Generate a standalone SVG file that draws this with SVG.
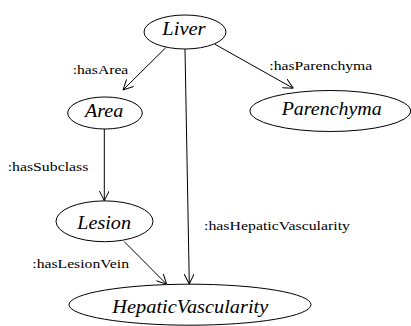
<svg xmlns="http://www.w3.org/2000/svg" width="411" height="326" viewBox="0 0 411 326">
<style>
.n ellipse{fill:#fff;stroke:#000;stroke-width:1}
.n text{font-family:"Liberation Serif","Times New Roman",serif;font-style:italic;font-size:18px;fill:#000}
.e line{stroke:#000;stroke-width:1;fill:none}
.lbl{font-family:"Liberation Serif","Times New Roman",serif;font-size:13.5px;fill:#000}
</style>
<defs>
<marker id="arr" viewBox="0 0 10 10" refX="10" refY="5" markerWidth="10" markerHeight="10" markerUnits="userSpaceOnUse" orient="auto">
<path d="M0,0 L10,5 L0,10" fill="none" stroke="#000" stroke-width="1"/>
</marker>
</defs>
<rect width="411" height="326" fill="#fff"/>
<g id="connectors" class="e">
<line x1="165.7" y1="47.7" x2="123" y2="90" marker-end="url(#arr)"/>
<line x1="215" y1="44.3" x2="293.3" y2="88.3" marker-end="url(#arr)"/>
<line x1="185" y1="49" x2="189.3" y2="284" marker-end="url(#arr)"/>
<line x1="104.3" y1="129" x2="104.3" y2="200.7" marker-end="url(#arr)"/>
<line x1="124.3" y1="241.7" x2="166.7" y2="284.3" marker-end="url(#arr)"/>
<text class="lbl" x="72.7" y="74" textLength="55.6" lengthAdjust="spacingAndGlyphs">:hasArea</text>
<text class="lbl" x="269.3" y="69.5" textLength="103" lengthAdjust="spacingAndGlyphs">:hasParenchyma</text>
<text class="lbl" x="7.7" y="170.7" textLength="80.6" lengthAdjust="spacingAndGlyphs">:hasSubclass</text>
<text class="lbl" x="204" y="230" textLength="146" lengthAdjust="spacingAndGlyphs">:hasHepaticVascularity</text>
<text class="lbl" x="32.3" y="268.3" textLength="96.7" lengthAdjust="spacingAndGlyphs">:hasLesionVein</text>
</g>
<g id="Liver" class="n">
<ellipse cx="185" cy="32" rx="41" ry="17"/>
<text x="162.3" y="35" textLength="43.3" lengthAdjust="spacingAndGlyphs">Liver</text>
</g>
<g id="Area" class="n">
<ellipse cx="105" cy="113" rx="37.3" ry="16"/>
<text x="85" y="116.7" textLength="38.3" lengthAdjust="spacingAndGlyphs">Area</text>
</g>
<g id="Parenchyma" class="n">
<ellipse cx="330.3" cy="111" rx="80.3" ry="20.5"/>
<text x="281.7" y="115" textLength="100" lengthAdjust="spacingAndGlyphs">Parenchyma</text>
</g>
<g id="Lesion" class="n">
<ellipse cx="104.5" cy="221.3" rx="48.5" ry="20.4"/>
<text x="77.3" y="229" textLength="53.7" lengthAdjust="spacingAndGlyphs">Lesion</text>
</g>
<g id="HepaticVascularity" class="n">
<ellipse cx="190" cy="304.7" rx="121" ry="20.5"/>
<text x="112.3" y="313.3" textLength="156" lengthAdjust="spacingAndGlyphs">HepaticVascularity</text>
</g>
</svg>
